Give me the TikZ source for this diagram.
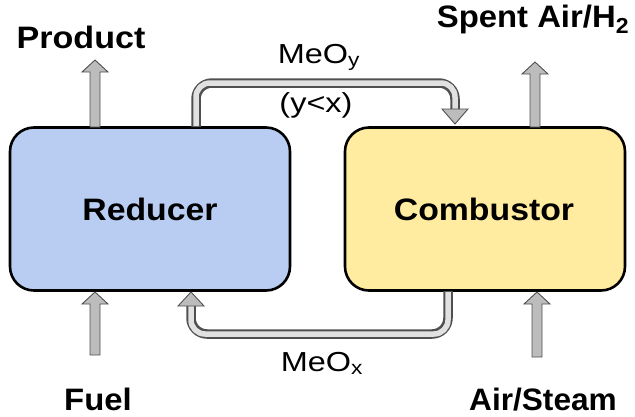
\documentclass[tikz,border=0pt]{standalone}
\usepackage{fontspec}
\setmainfont{Liberation Sans}
\usetikzlibrary{calc}
\definecolor{bluefill}{RGB}{185,205,242}
\definecolor{yellowfill}{RGB}{255,236,160}
\definecolor{arrfill}{RGB}{188,188,188}
\definecolor{arrline}{RGB}{80,80,80}
\definecolor{loopin}{RGB}{225,225,225}
\tikzset{
  box/.style={draw=black, line width=2.6pt, rounded corners=24pt, minimum width=280pt, minimum height=163pt},
  boxtext/.style={font=\bfseries\fontsize{31}{36}\selectfont, inner sep=0pt, anchor=base},
  blabel/.style={font=\bfseries\fontsize{31}{36}\selectfont, inner sep=0pt, anchor=base},
  rlabel/.style={font=\fontsize{27.5}{32}\selectfont, inner sep=0pt, anchor=base},
  fatshaft/.style={fill=arrfill, draw=arrline, line width=0.9pt, line join=miter},
  loopouter/.style={draw=arrline, line width=9.5pt, rounded corners=16pt},
  loopinner/.style={draw=loopin, line width=5.5pt, rounded corners=14pt},
}
\newcommand{\fatup}[2]{%
  \path[fatshaft] let \p1=(#1), \p2=(#2) in
    (\x1-5pt,\y1) -- (\x1-5pt,\y2-12pt) -- (\x1-13pt,\y2-12pt) -- (\x2,\y2)
    -- (\x1+13pt,\y2-12pt) -- (\x1+5pt,\y2-12pt) -- (\x1+5pt,\y1) -- cycle;}
\newcommand{\wide}[2]{\scalebox{#1}[1]{#2}}
\begin{document}
\begin{tikzpicture}[x=1pt,y=-1pt]
\useasboundingbox (0,0) rectangle (635,416);
% boxes
\node[box, fill=bluefill] (red) at (150,209) {};
\node[box, fill=yellowfill] (comb) at (485,209) {};
\node[boxtext] (redt) at (150,220) {\wide{1.09}{Reducer}};
\node[boxtext] (combt) at (484,220) {\wide{1.09}{Combustor}};
% labels
\node[blabel] (prod) at (81,48) {\wide{1.1}{Product}};
\node[blabel] (spent) at (533,27) {\wide{1.06}{Spent Air/H\textsubscript{2}}};
\node[blabel] (fuel) at (98,410) {\wide{1.06}{Fuel}};
\node[blabel] (air) at (543,410) {\wide{1.02}{Air/Steam}};
\node[rlabel] (meoy) at (319,63) {\wide{1.18}{MeO\textsubscript{y}}};
\node[rlabel] (ylx) at (316,112) {\wide{1.18}{(y<x)}};
\node[rlabel] (meox) at (322,371) {\wide{1.18}{MeO\textsubscript{x}}};
% straight arrows
\coordinate (pb) at (95,127); \coordinate (pt) at (95,60);
\coordinate (sb) at (535,127); \coordinate (st) at (535,62);
\coordinate (fb) at (95,355); \coordinate (ft) at (95,292);
\coordinate (ab) at (537,357); \coordinate (at) at (537,292);
\fatup{pb}{pt}
\fatup{sb}{st}
\fatup{fb}{ft}
\fatup{ab}{at}
% top loop
\coordinate (t1) at (196,127);
\coordinate (t2) at (196,83);
\coordinate (t3) at (455,83);
\coordinate (t4) at (455,110);
\coordinate (t5) at (455,124);
\draw[loopouter] (t1) -- (t2) -- (t3) -- (t4);
\draw[loopinner] ($(t1)+(0,-1)$) -- (t2) -- (t3) -- (t4);
\path[fatshaft] ($(t4)+(-13,-1)$) -- ($(t4)+(13,-1)$) -- (t5) -- cycle;
% bottom loop
\coordinate (b1) at (448,291);
\coordinate (b2) at (448,334);
\coordinate (b3) at (191,334);
\coordinate (b4) at (191,305);
\coordinate (b5) at (191,292);
\draw[loopouter] (b1) -- (b2) -- (b3) -- (b4);
\draw[loopinner] ($(b1)+(0,1)$) -- (b2) -- (b3) -- (b4);
\path[fatshaft] ($(b4)+(-13,1)$) -- ($(b4)+(13,1)$) -- (b5) -- cycle;
\end{tikzpicture}
\end{document}
